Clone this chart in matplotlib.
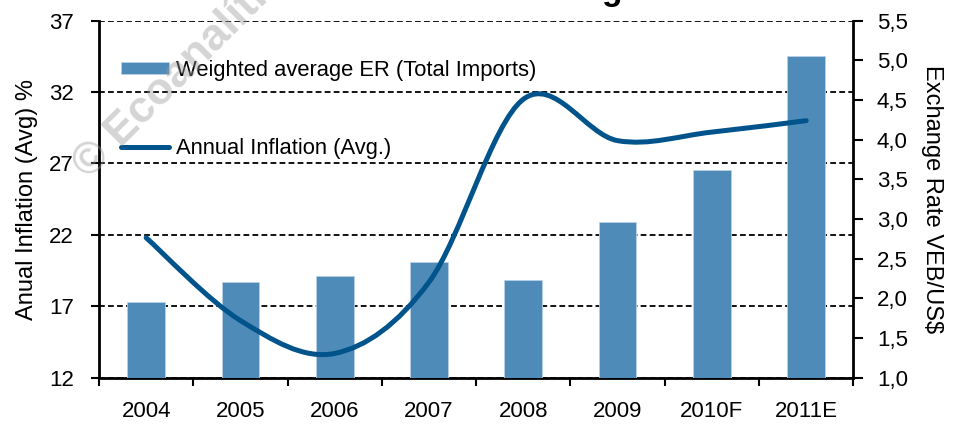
"""Inflation vs weighted average exchange rate, 2004-2011E."""

import matplotlib

matplotlib.use("Agg")

import matplotlib.pyplot as plt
import numpy as np
from matplotlib.patches import PathPatch
from matplotlib.path import Path
from matplotlib.ticker import FixedLocator, FuncFormatter

plt.rcParams["font.family"] = ["Liberation Sans", "DejaVu Sans"]

years = ["2004", "2005", "2006", "2007", "2008", "2009", "2010F", "2011E"]
exchange_rate = [1.96, 2.21, 2.28, 2.46, 2.23, 2.96, 3.62, 5.06]
inflation = [21.8, 16.0, 13.7, 18.7, 31.5, 28.6, 29.2, 30.0]

BAR_COLOR = "#4f8bb9"
LINE_COLOR = "#00548b"


def smooth_path(xs, ys):
    """Excel-style smoothed line: cubic Bezier segments through every point."""
    pts = np.column_stack([xs, ys]).astype(float)
    ext = np.vstack([pts[0], pts, pts[-1]])
    verts = [tuple(pts[0])]
    codes = [Path.MOVETO]
    for i in range(len(pts) - 1):
        p0, p1, p2, p3 = ext[i], ext[i + 1], ext[i + 2], ext[i + 3]
        c1 = p1 + (p2 - p0) / 6.0
        c2 = p2 - (p3 - p1) / 6.0
        verts += [tuple(c1), tuple(c2), tuple(p2)]
        codes += [Path.CURVE4] * 3
    return Path(verts, codes)


def main() -> None:
    fig = plt.figure(figsize=(9.54, 4.26), dpi=100)
    ax = fig.add_axes([0.1038, 0.1134, 0.7907, 0.838])
    ax2 = ax.twinx()

    x = np.arange(len(years))

    # left scale: inflation, owns the dashed grid
    ax.set_xlim(-0.5, len(years) - 0.5)
    ax.set_ylim(12, 37)
    ax.set_yticks(np.arange(12, 38, 5))
    ax.yaxis.grid(True, color="black", linestyle=(0, (3.2, 1.8)), linewidth=1.3)
    ax.set_axisbelow(True)
    ax.tick_params(axis="y", direction="out", length=6, width=1.5, pad=12, labelsize=16)
    ax.set_ylabel("Anual Inflation (Avg) %", fontsize=17, labelpad=8)

    ax.set_xticks(x)
    ax.set_xticklabels(years)
    ax.xaxis.set_minor_locator(FixedLocator(np.arange(len(years) + 1) - 0.5))
    ax.tick_params(axis="x", which="major", length=0, pad=17, labelsize=16)
    ax.tick_params(axis="x", which="minor", direction="out", length=6, width=1.5)

    for side in ("top", "right"):
        ax.spines[side].set_visible(False)
    for side in ("left", "bottom"):
        ax.spines[side].set_linewidth(2)

    # right scale: exchange rate bars, line drawn on top in inflation units
    ax2.set_ylim(1.0, 5.5)
    ax2.set_yticks(np.arange(1.0, 5.51, 0.5))
    ax2.yaxis.set_major_formatter(FuncFormatter(lambda v, _: f"{v:.1f}".replace(".", ",")))
    ax2.tick_params(axis="y", direction="out", length=7, width=1.5, pad=10, labelsize=16)
    ax2.set_ylabel("Exchange Rate VEB/US$", fontsize=17, rotation=270, labelpad=25)
    ax2.spines["top"].set_visible(False)
    ax2.spines["left"].set_visible(False)
    ax2.spines["bottom"].set_visible(False)
    ax2.spines["right"].set_linewidth(2)

    bars = ax2.bar(x, exchange_rate, width=0.4, color=BAR_COLOR,
                   edgecolor="#b9d0e5", linewidth=0.6,
                   label="Weighted average ER (Total Imports)")

    curve = PathPatch(smooth_path(x, inflation), transform=ax.transData, fill=False,
                      edgecolor=LINE_COLOR, linewidth=3.6, capstyle="round", zorder=3)
    ax2.add_patch(curve)
    (line_handle,) = ax2.plot([], [], color=LINE_COLOR, linewidth=3.6,
                              solid_capstyle="round", label="Annual Inflation (Avg.)")

    ax2.legend(handles=[bars, line_handle], loc="upper left",
               bbox_to_anchor=(0.029, 0.89), frameon=False, fontsize=15.8,
               handlelength=2.2, handleheight=0.5, handletextpad=0.3,
               labelspacing=2.6, borderpad=0, borderaxespad=0)

    # watermark and the cropped title
    fig.text(0.093, 0.577, "© Ecoanalítica", rotation=45, rotation_mode="anchor",
             ha="left", va="baseline", fontsize=32, fontweight="bold",
             color="#9a9a9a", alpha=0.42)
    fig.text(0.641, 1.0, "g", ha="center", va="baseline", fontsize=24, fontweight="bold")

    fig.savefig("out.png", dpi=100)
    plt.close(fig)


if __name__ == "__main__":
    main()
